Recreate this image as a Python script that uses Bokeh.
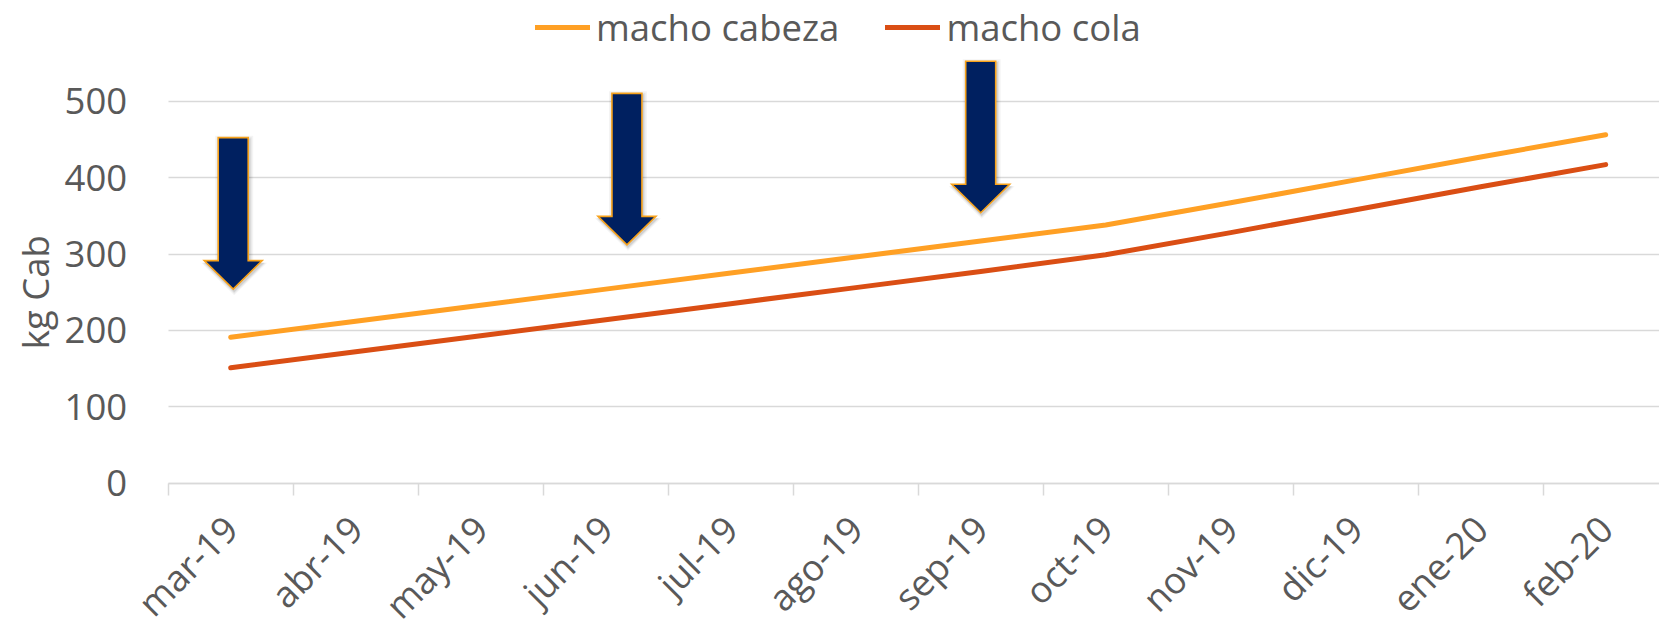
from math import pi
from bokeh.plotting import figure
from bokeh.models import FixedTicker, Range1d, Legend, LegendItem, Label
from bokeh.embed import file_html
from bokeh.resources import INLINE

# ---------------- data ----------------
months = ["mar-19", "abr-19", "may-19", "jun-19", "jul-19", "ago-19",
          "sep-19", "oct-19", "nov-19", "dic-19", "ene-20", "feb-20"]
macho_cabeza = [191, 212, 233, 254, 275, 296, 317, 338, 367, 397, 427, 456]
macho_cola = [151, 172, 193, 214, 235, 256, 277, 299, 328, 358, 388, 417]
y_ticks = [0, 100, 200, 300, 400, 500]
series_names = ["macho cabeza", "macho cola"]

# arrow annotations: month they point at, small nudge (in categories), tip value
arrow_months = ["mar-19", "jun-19", "sep-19"]
arrow_nudge = [0.02, 0.17, 0.0]
arrow_tips = [254, 312, 354]

# ---------------- layout ----------------
W, H = 1659, 626
AXIS_LEFT = 167.7       # x position of plot-area left edge
ZERO_FROM_TOP = 482.7   # y position of value 0
PX_CAT = 125.0          # pixels per category
PX_VAL = 0.764          # pixels per kg

X_START = -AXIS_LEFT / PX_CAT
X_END = (W - AXIS_LEFT) / PX_CAT
Y_END = ZERO_FROM_TOP / PX_VAL
Y_START = -(H - ZERO_FROM_TOP) / PX_VAL

FONT = "Open Sans"
FS = "36.5px"
TXT = "#595959"
GRID = "#d9d9d9"
C1 = "#FFA024"
C2 = "#DA4E14"

p = figure(width=W, height=H, x_range=Range1d(X_START, X_END), y_range=Range1d(Y_START, Y_END),
           output_backend="svg", toolbar_location=None,
           min_border_left=0, min_border_right=0, min_border_top=0, min_border_bottom=0)
p.outline_line_color = None
p.background_fill_color = "white"
p.border_fill_color = "white"
p.xgrid.visible = False
p.ygrid.grid_line_color = GRID
p.ygrid.grid_line_width = 1.3
grid_limited = True
try:
    p.ygrid.cross_bounds = (0, X_END)
except Exception:
    grid_limited = False
    p.ygrid.visible = False

# y axis
yax = p.yaxis[0]
yax.fixed_location = 0
yax.ticker = FixedTicker(ticks=y_ticks)
yax.axis_line_color = None
yax.major_tick_line_color = None
yax.minor_tick_line_color = None
yax.major_tick_out = 0
yax.major_tick_in = 0
yax.major_label_standoff = 41
yax.major_label_text_font = FONT
yax.major_label_text_font_size = FS
yax.major_label_text_color = TXT

if not grid_limited:
    gy = y_ticks[1:]
    p.segment(x0=[0] * len(gy), y0=gy, x1=[X_END] * len(gy), y1=gy,
              line_color=GRID, line_width=1.3, level="underlay")

# x axis (categories as numeric slots)
xs = [i + 0.5 for i in range(len(months))]
xax = p.xaxis[0]
xax.fixed_location = 0
xax.bounds = (0, X_END)
xax.ticker = FixedTicker(ticks=xs, minor_ticks=list(range(len(months))))
xax.major_label_overrides = {x: m for x, m in zip(xs, months)}
xax.axis_line_color = GRID
xax.axis_line_width = 1.5
xax.major_tick_line_color = None
xax.major_tick_out = 0
xax.major_tick_in = 0
xax.minor_tick_line_color = GRID
xax.minor_tick_line_width = 1.5
xax.minor_tick_out = 12
xax.minor_tick_in = 0
xax.major_label_standoff = 27
xax.major_label_orientation = pi / 4
xax.major_label_text_font = FONT
xax.major_label_text_font_size = FS
xax.major_label_text_color = TXT

# y axis title
p.add_layout(Label(x=0, y=250, x_offset=-133.7, text="kg Cab", angle=pi / 2,
                   text_align="center", text_baseline="middle",
                   text_font=FONT, text_font_size=FS, text_color=TXT))

# series lines
r1 = p.line(xs, macho_cabeza, line_color=C1, line_width=5, line_cap="round", line_join="round")
r2 = p.line(xs, macho_cola, line_color=C2, line_width=5, line_cap="round", line_join="round")

# block arrows (shape in pixels relative to the tip: right, up)
shape = [(0, 0), (29, 28.5), (15, 28.5), (15, 151.5), (-15, 151.5), (-15, 28.5), (-29, 28.5)]
ax_list, ay_list = [], []
for m, nd, tip in zip(arrow_months, arrow_nudge, arrow_tips):
    cx = months.index(m) + 0.5 + nd
    ax_list.append([cx + sx / PX_CAT for sx, sy in shape])
    ay_list.append([tip + sy / PX_VAL for sx, sy in shape])

# soft shadows
for grow, alpha in [(4.0, 0.045), (2.5, 0.06), (1.2, 0.09)]:
    sxs, sys = [], []
    for m, nd, tip in zip(arrow_months, arrow_nudge, arrow_tips):
        cx = months.index(m) + 0.5 + nd
        pts = []
        for sx, sy in shape:
            gx = sx + (grow if sx > 0 else -grow if sx < 0 else 0) + 1.0
            gy = sy + (grow if sy > 100 else -grow if sy == 0 else 0) - 2.0
            pts.append((gx, gy))
        sxs.append([cx + gx / PX_CAT for gx, gy in pts])
        sys.append([tip + gy / PX_VAL for gx, gy in pts])
    p.patches(sxs, sys, fill_color="black", fill_alpha=alpha, line_color=None)

p.patches(ax_list, ay_list, fill_color="#002060", line_color="#F7A21B", line_width=1.6,
          line_join="miter")

# legend
legend = Legend(items=[LegendItem(label=series_names[0], renderers=[r1]),
                       LegendItem(label=series_names[1], renderers=[r2])],
                orientation="horizontal", location=(535, 573.6),
                label_text_font=FONT, label_text_font_size=FS, label_text_color=TXT,
                glyph_width=55, glyph_height=20, label_standoff=6, spacing=46,
                padding=0, margin=0, border_line_color=None, background_fill_alpha=0)
p.add_layout(legend)

open("out.html", "w").write(file_html(p, INLINE))
